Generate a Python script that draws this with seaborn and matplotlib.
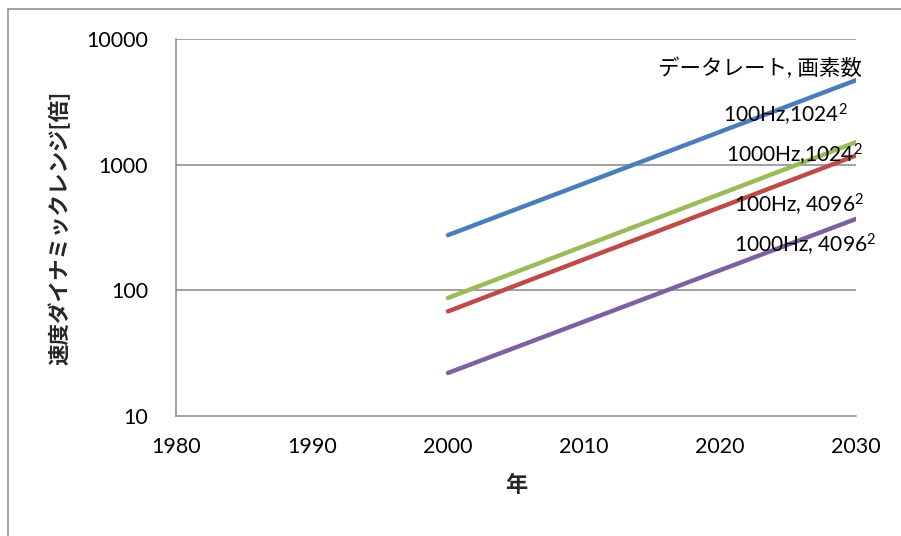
import matplotlib
matplotlib.use("Agg")
import matplotlib.pyplot as plt
import matplotlib.patches as mpatches
import numpy as np
import pandas as pd
import seaborn as sns

# Projected speed dynamic range by year, per data-rate / pixel-count setting
years = [2000, 2030]
series_names = ["100Hz,1024$^{2}$", "1000Hz,1024$^{2}$", "100Hz, 4096$^{2}$", "1000Hz, 4096$^{2}$"]
range_100hz_1024 = [275, 4700]
range_1000hz_1024 = [87, 1510]
range_100hz_4096 = [68, 1185]
range_1000hz_4096 = [22, 370]
series_colors = ["#4A7EBB", "#9BBB59", "#BE4B48", "#7D60A0"]
series_values = [range_100hz_1024, range_1000hz_1024, range_100hz_4096, range_1000hz_4096]

legend_title = "データレート, 画素数"
x_ticks = [1980, 1990, 2000, 2010, 2020, 2030]
y_ticks = [10, 100, 1000, 10000]
y_tick_labels = ["10", "100", "1000", "10000"]
x_label = "年"
y_label = "速度ダイナミックレンジ[倍]"

rows = []
for name, vals in zip(series_names, series_values):
    for yr, v in zip(years, vals):
        rows.append({"year": yr, "range": v, "series": name})
df = pd.DataFrame(rows)

sns.set_theme(style="white")
plt.rcParams["font.family"] = ["Lato", "Noto Sans CJK JP", "DejaVu Sans"]
plt.rcParams["mathtext.fontset"] = "custom"
plt.rcParams["mathtext.rm"] = "Lato"
plt.rcParams["mathtext.it"] = "Lato"
plt.rcParams["mathtext.default"] = "regular"
cjk = ["Noto Sans CJK JP", "DejaVu Sans"]

fig = plt.figure(figsize=(9.01, 5.36), dpi=100)
ax = fig.add_axes([176 / 901, 1 - 416 / 536, 680 / 901, 377 / 536])

sns.lineplot(data=df, x="year", y="range", hue="series", hue_order=series_names,
             palette=series_colors, linewidth=3.2, legend=False, ax=ax,
             solid_capstyle="round")

ax.set_yscale("log")
ax.set_xlim(1980, 2030)
ax.set_ylim(10, 10000)
ax.set_xticks(x_ticks)
ax.set_xticklabels([str(t) for t in x_ticks])
ax.set_yticks(y_ticks)
ax.set_yticklabels(y_tick_labels)
ax.minorticks_off()

grid_c = "#888888"
for yv in y_ticks[1:]:
    ax.axhline(yv, color=grid_c, lw=1.1, zorder=0)

for s in ["top", "right"]:
    ax.spines[s].set_visible(False)
for s in ["left", "bottom"]:
    ax.spines[s].set_color(grid_c)
    ax.spines[s].set_linewidth(1.1)

ax.tick_params(axis="both", which="major", direction="out", length=6, width=1.1,
               color=grid_c, labelsize=15.5, labelcolor="black")
ax.tick_params(axis="y", pad=14)
ax.tick_params(axis="x", pad=9)

ax.set_xlabel(x_label, fontsize=16, fontweight="bold", labelpad=12, family=cjk)
ax.set_ylabel(y_label, fontsize=15.5, fontweight="bold", labelpad=11, family=cjk)

# Series annotations at the right end of the lines
label_pos = [
    (legend_title, 2030.4, 5860, 15.5),
    (series_names[0], 2029.4, 2480, 15),
    (series_names[1], 2030.5, 1190, 15),
    (series_names[2], 2030.6, 477, 15),
    (series_names[3], 2031.5, 229, 15),
]
for txt, xv, yv, fs in label_pos:
    ax.text(xv, yv, txt, ha="right", va="center", fontsize=fs,
            color="black", clip_on=False)

# Chart-area frame
frame = mpatches.Rectangle((8 / 901, -0.1), 1.0, 1 - 9 / 536 + 0.1, transform=fig.transFigure,
                           fill=False, edgecolor="#888888", lw=1.1, clip_on=False)
fig.add_artist(frame)

fig.savefig("out.png", dpi=100)
